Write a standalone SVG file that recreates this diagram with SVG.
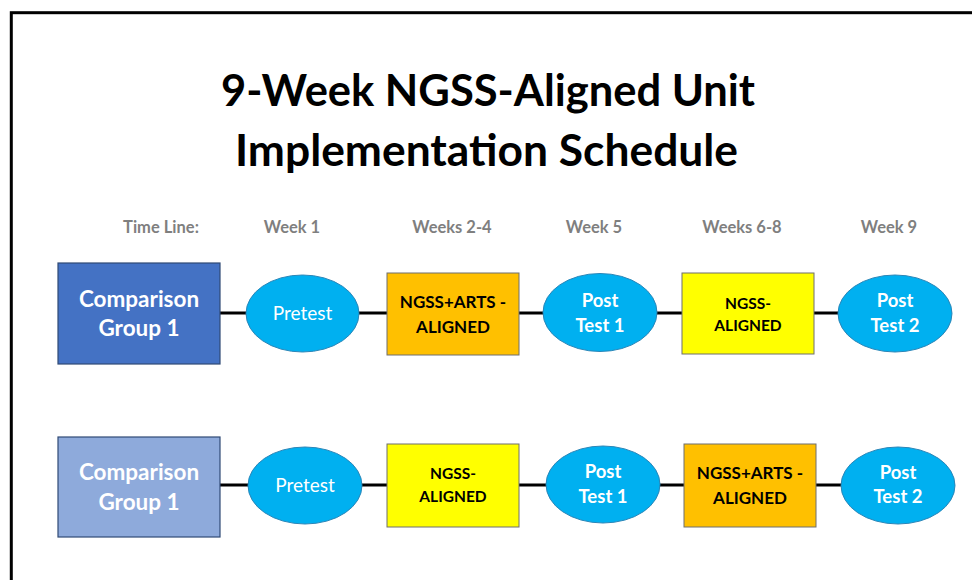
<svg xmlns="http://www.w3.org/2000/svg" width="972" height="580" viewBox="0 0 972 580">
<style>
  text { font-family: Lato, "Open Sans", "Liberation Sans", sans-serif; text-anchor: middle; }
  .title { font-size: 44px; font-weight: bold; fill: #000; }
  .tl { font-size: 16.5px; font-weight: bold; fill: #7f7f7f; }
  .grp { font-size: 22.5px; font-weight: bold; fill: #fff; }
  .ell { fill: #00b0f0; stroke: #2a86b8; stroke-width: 1; }
  .ellt { font-size: 18.5px; font-weight: bold; fill: #fff; }
  .pre { font-size: 19px; font-weight: normal; fill: #fff; }
  .box { stroke: #6f6f6f; stroke-width: 1; }
  .bt { font-size: 17px; font-weight: bold; fill: #000; }
  .bs { font-size: 15.5px; font-weight: bold; fill: #000; }
  .con { stroke: #000; stroke-width: 3; }
</style>
<rect x="0" y="0" width="972" height="580" fill="#fff"/>
<rect x="11.3" y="12.7" width="1000" height="620" fill="none" stroke="#000" stroke-width="3"/>

<g id="title">
  <text class="title" x="488" y="106" textLength="534" lengthAdjust="spacingAndGlyphs">9-Week NGSS-Aligned Unit</text>
  <text class="title" x="486.5" y="166" textLength="503" lengthAdjust="spacingAndGlyphs">Implementation Schedule</text>
</g>

<g id="timeline">
  <text class="tl" x="161" y="233">Time Line:</text>
  <text class="tl" x="292" y="233">Week 1</text>
  <text class="tl" x="452" y="233">Weeks 2-4</text>
  <text class="tl" x="594" y="233">Week 5</text>
  <text class="tl" x="742" y="233">Weeks 6-8</text>
  <text class="tl" x="889" y="233">Week 9</text>
</g>

<g id="connectors">
  <line class="con" x1="220" y1="313" x2="247" y2="313"/>
  <line class="con" x1="358" y1="313" x2="387" y2="313"/>
  <line class="con" x1="519" y1="313" x2="544" y2="313"/>
  <line class="con" x1="656" y1="313" x2="682" y2="313"/>
  <line class="con" x1="814" y1="313" x2="839" y2="313"/>
  <line class="con" x1="220" y1="485" x2="249" y2="485"/>
  <line class="con" x1="361" y1="485" x2="387" y2="485"/>
  <line class="con" x1="519" y1="485" x2="547" y2="485"/>
  <line class="con" x1="659" y1="485" x2="684" y2="485"/>
  <line class="con" x1="816" y1="485" x2="842" y2="485"/>
</g>

<g id="r1-group">
  <rect x="58" y="263" width="162" height="101" fill="#4472c4" stroke="#2f4a75" stroke-width="1.2"/>
  <text class="grp" x="139" y="307">Comparison</text>
  <text class="grp" x="139" y="336">Group 1</text>
</g>
<g id="r1-pretest">
  <ellipse class="ell" cx="302.5" cy="313.5" rx="56.5" ry="38.5"/>
  <text class="pre" x="302.5" y="320">Pretest</text>
</g>
<g id="r1-arts">
  <rect class="box" x="387" y="273" width="132" height="82" fill="#ffc000"/>
  <text class="bt" x="453" y="308">NGSS+ARTS -</text>
  <text class="bt" x="453" y="333">ALIGNED</text>
</g>
<g id="r1-post1">
  <ellipse class="ell" cx="600" cy="312.5" rx="57" ry="39"/>
  <text class="ellt" x="600" y="307">Post</text>
  <text class="ellt" x="600" y="332">Test 1</text>
</g>
<g id="r1-ngss">
  <rect class="box" x="682" y="273" width="132" height="81" fill="#ffff00"/>
  <text class="bs" x="748" y="309">NGSS-</text>
  <text class="bs" x="748" y="331">ALIGNED</text>
</g>
<g id="r1-post2">
  <ellipse class="ell" cx="895" cy="313.5" rx="57" ry="38.5"/>
  <text class="ellt" x="895" y="307">Post</text>
  <text class="ellt" x="895" y="332">Test 2</text>
</g>

<g id="r2-group">
  <rect x="58" y="437" width="162" height="100" fill="#8eaadb" stroke="#2f4a75" stroke-width="1.2"/>
  <text class="grp" x="139" y="480">Comparison</text>
  <text class="grp" x="139" y="510">Group 1</text>
</g>
<g id="r2-pretest">
  <ellipse class="ell" cx="305" cy="485.5" rx="57" ry="38.5"/>
  <text class="pre" x="305" y="492">Pretest</text>
</g>
<g id="r2-ngss">
  <rect class="box" x="387" y="444" width="132" height="83" fill="#ffff00"/>
  <text class="bs" x="453" y="479">NGSS-</text>
  <text class="bs" x="453" y="502">ALIGNED</text>
</g>
<g id="r2-post1">
  <ellipse class="ell" cx="603" cy="484.5" rx="57" ry="38.5"/>
  <text class="ellt" x="603" y="478">Post</text>
  <text class="ellt" x="603" y="503">Test 1</text>
</g>
<g id="r2-arts">
  <rect class="box" x="684" y="444" width="132" height="83" fill="#ffc000"/>
  <text class="bt" x="750" y="479">NGSS+ARTS -</text>
  <text class="bt" x="750" y="504">ALIGNED</text>
</g>
<g id="r2-post2">
  <ellipse class="ell" cx="898" cy="485.5" rx="57" ry="38.5"/>
  <text class="ellt" x="898" y="479">Post</text>
  <text class="ellt" x="898" y="503">Test 2</text>
</g>
</svg>
